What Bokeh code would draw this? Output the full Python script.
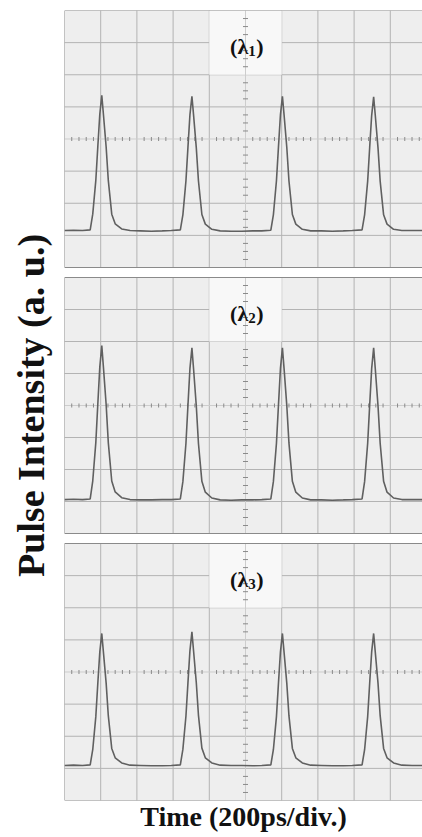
import numpy as np
from bokeh.plotting import figure
from bokeh.models import Range1d
from bokeh.embed import file_html
from bokeh.resources import INLINE
from bokeh.core.properties import value

# ---------------- data (time in divisions, intensity in divisions) ----------------
time_div = [0.0, 0.25, 0.5,
            0.71, 0.78, 0.865, 0.92, 0.975, 1.03, 1.075, 1.15, 1.21, 1.305, 1.40, 1.58, 1.81,
            2.1, 2.4, 2.7, 2.95,
            3.2, 3.27, 3.355, 3.41, 3.465, 3.52, 3.565, 3.64, 3.70, 3.795, 3.89, 4.07, 4.30,
            4.6, 4.9, 5.2, 5.45,
            5.70, 5.77, 5.855, 5.91, 5.965, 6.02, 6.065, 6.14, 6.20, 6.295, 6.39, 6.57, 6.80,
            7.1, 7.4, 7.7, 7.95,
            8.22, 8.29, 8.375, 8.43, 8.485, 8.54, 8.585, 8.66, 8.72, 8.815, 8.91, 9.09, 9.32,
            9.6, 9.9]

lambda1 = [1.15, 1.16, 1.15,
           1.17, 1.66, 2.71, 3.76, 4.77, 5.36, 4.77, 3.76, 2.71, 1.66, 1.36, 1.20, 1.15,
           1.14, 1.13, 1.14, 1.15,
           1.17, 1.64, 2.70, 3.74, 4.75, 5.33, 4.75, 3.74, 2.70, 1.65, 1.35, 1.19, 1.14,
           1.13, 1.13, 1.14, 1.14,
           1.16, 1.64, 2.70, 3.74, 4.75, 5.33, 4.76, 3.75, 2.70, 1.65, 1.35, 1.19, 1.14,
           1.14, 1.13, 1.14, 1.15,
           1.17, 1.64, 2.69, 3.73, 4.73, 5.31, 4.74, 3.73, 2.69, 1.64, 1.35, 1.19, 1.15,
           1.15, 1.15]

lambda2 = [1.06, 1.07, 1.06,
           1.08, 1.64, 2.84, 4.04, 5.20, 5.87, 5.20, 4.04, 2.84, 1.64, 1.30, 1.12, 1.06,
           1.05, 1.05, 1.06, 1.06,
           1.08, 1.62, 2.82, 4.00, 5.15, 5.80, 5.15, 4.00, 2.82, 1.63, 1.29, 1.11, 1.05,
           1.04, 1.05, 1.05, 1.06,
           1.08, 1.62, 2.82, 4.00, 5.15, 5.80, 5.16, 4.01, 2.83, 1.63, 1.29, 1.11, 1.05,
           1.05, 1.04, 1.05, 1.06,
           1.08, 1.62, 2.82, 4.00, 5.15, 5.80, 5.15, 4.00, 2.82, 1.63, 1.29, 1.11, 1.06,
           1.06, 1.06]

lambda3 = [1.09, 1.10, 1.09,
           1.11, 1.58, 2.61, 3.64, 4.62, 5.20, 4.62, 3.66, 2.64, 1.62, 1.33, 1.17, 1.10,
           1.09, 1.08, 1.08, 1.09,
           1.11, 1.59, 2.63, 3.66, 4.66, 5.25, 4.66, 3.68, 2.66, 1.63, 1.33, 1.17, 1.10,
           1.09, 1.09, 1.08, 1.09,
           1.11, 1.58, 2.61, 3.64, 4.62, 5.20, 4.62, 3.66, 2.64, 1.62, 1.33, 1.17, 1.10,
           1.09, 1.08, 1.08, 1.09,
           1.11, 1.58, 2.61, 3.64, 4.62, 5.20, 4.62, 3.66, 2.64, 1.62, 1.33, 1.17, 1.10,
           1.09, 1.09]

series = [lambda1, lambda2, lambda3]
label_main = "(λ"
label_subs = ["1", "2", "3"]
label_close = ")"
x_title = "Time (200ps/div.)"
y_title = "Pulse Intensity (a. u.)"

# ---------------- layout (pixels) ----------------
W, H = 422, 837
FRAME_LEFT, FRAME_RIGHT = 64, 422
FRAME_TOP, FRAME_BOTTOM = 10, 800
PANELS = [(10, 267), (277, 533), (543, 800)]
XDIV = 36.2
NX, NY = 10, 8

x_end = (FRAME_RIGHT - FRAME_LEFT) / XDIV

p = figure(width=W, height=H, output_backend="svg", toolbar_location=None,
           min_border_left=FRAME_LEFT, min_border_right=0,
           min_border_top=FRAME_TOP, min_border_bottom=H - FRAME_BOTTOM,
           x_range=Range1d(0, x_end))
p.outline_line_color = None
p.xgrid.visible = False
p.ygrid.visible = False
p.background_fill_color = "white"
p.border_fill_color = "white"

names = []
for i, (t, b) in enumerate(PANELS):
    ppd = (b - t) / NY
    start = -(FRAME_BOTTOM - b) / ppd
    end = NY + (t - FRAME_TOP) / ppd
    rng = Range1d(start, end)
    if i == 2:
        p.y_range = rng
        names.append("default")
    else:
        name = f"p{i}"
        p.extra_y_ranges[name] = rng
        names.append(name)

# axes: only their titles are shown
for ax in (p.xaxis[0], p.yaxis[0]):
    ax.ticker = []
    ax.major_label_text_font_size = "0px"
    ax.major_label_standoff = 0
    ax.major_tick_out = 0
    ax.major_tick_in = 0
    ax.minor_tick_out = 0
    ax.minor_tick_in = 0
    ax.axis_line_color = None
    ax.axis_label_text_font = "Liberation Serif"
    ax.axis_label_text_font_style = "bold"
    ax.axis_label_text_color = "#111111"
p.xaxis.axis_label = x_title
p.xaxis.axis_label_text_font_size = "28px"
p.xaxis.axis_label_standoff = 0
p.yaxis.axis_label = y_title
p.yaxis.axis_label_text_font_size = "38px"
p.yaxis.axis_label_standoff = 13

BG = "#eeeeee"
GRID = "#b3b3b3"
TICK = "#8a8a8a"
TRACE = "#606060"
FONT = value("Liberation Serif")

for i, name in enumerate(names):
    kw = dict(y_range_name=name)
    p.quad(left=0, right=NX, bottom=0, top=NY, fill_color=BG, line_color=None, **kw)
    vx = [k for k in range(1, NX) if k != 5]
    p.segment(x0=vx, x1=vx, y0=[0] * len(vx), y1=[NY] * len(vx), line_color=GRID, line_width=1, **kw)
    hy = [k for k in range(1, NY) if k != 4]
    p.segment(x0=[0] * len(hy), x1=[NX] * len(hy), y0=hy, y1=hy, line_color=GRID, line_width=1, **kw)
    p.quad(left=4, right=6, bottom=6, top=NY, fill_color="#f8f8f8", line_color=None, **kw)
    p.segment(x0=[5, 0], x1=[5, NX], y0=[0, 4], y1=[NY, 4], line_color="#cdcdcd", line_width=1, **kw)
    tx = [k / 5 for k in range(1, NX * 5) if k % 5 != 0]
    p.scatter(x=tx, y=[4] * len(tx), marker="dash", angle=np.pi / 2, size=4,
              line_color=TICK, line_width=1, **kw)
    ty = [k / 4 for k in range(1, NY * 4) if k % 4 != 0]
    p.scatter(x=[5] * len(ty), y=ty, marker="dash", size=5,
              line_color=TICK, line_width=1, **kw)
    p.quad(left=0, right=NX, bottom=0, top=NY, fill_color=None, line_color="#8a8a8a", line_width=1, **kw)
    p.line(x=time_div, y=series[i], line_color=TRACE, line_width=1.6, **kw)
    # panel label "(λn)" with subscript
    p.text(x=[5.02], y=[6.88], text=[label_main], text_align="right", text_baseline="middle",
           x_offset=2, text_font=FONT, text_font_style="bold", text_font_size="22px",
           text_color="#111111", **kw)
    p.text(x=[5.02], y=[6.88], text=[label_subs[i]], text_align="left", text_baseline="middle",
           x_offset=2, y_offset=5, text_font=FONT, text_font_style="bold", text_font_size="15px",
           text_color="#111111", **kw)
    p.text(x=[5.02], y=[6.88], text=[label_close], text_align="left", text_baseline="middle",
           x_offset=10, text_font=FONT, text_font_style="bold", text_font_size="22px",
           text_color="#111111", **kw)

open("out.html", "w").write(file_html(p, INLINE))
